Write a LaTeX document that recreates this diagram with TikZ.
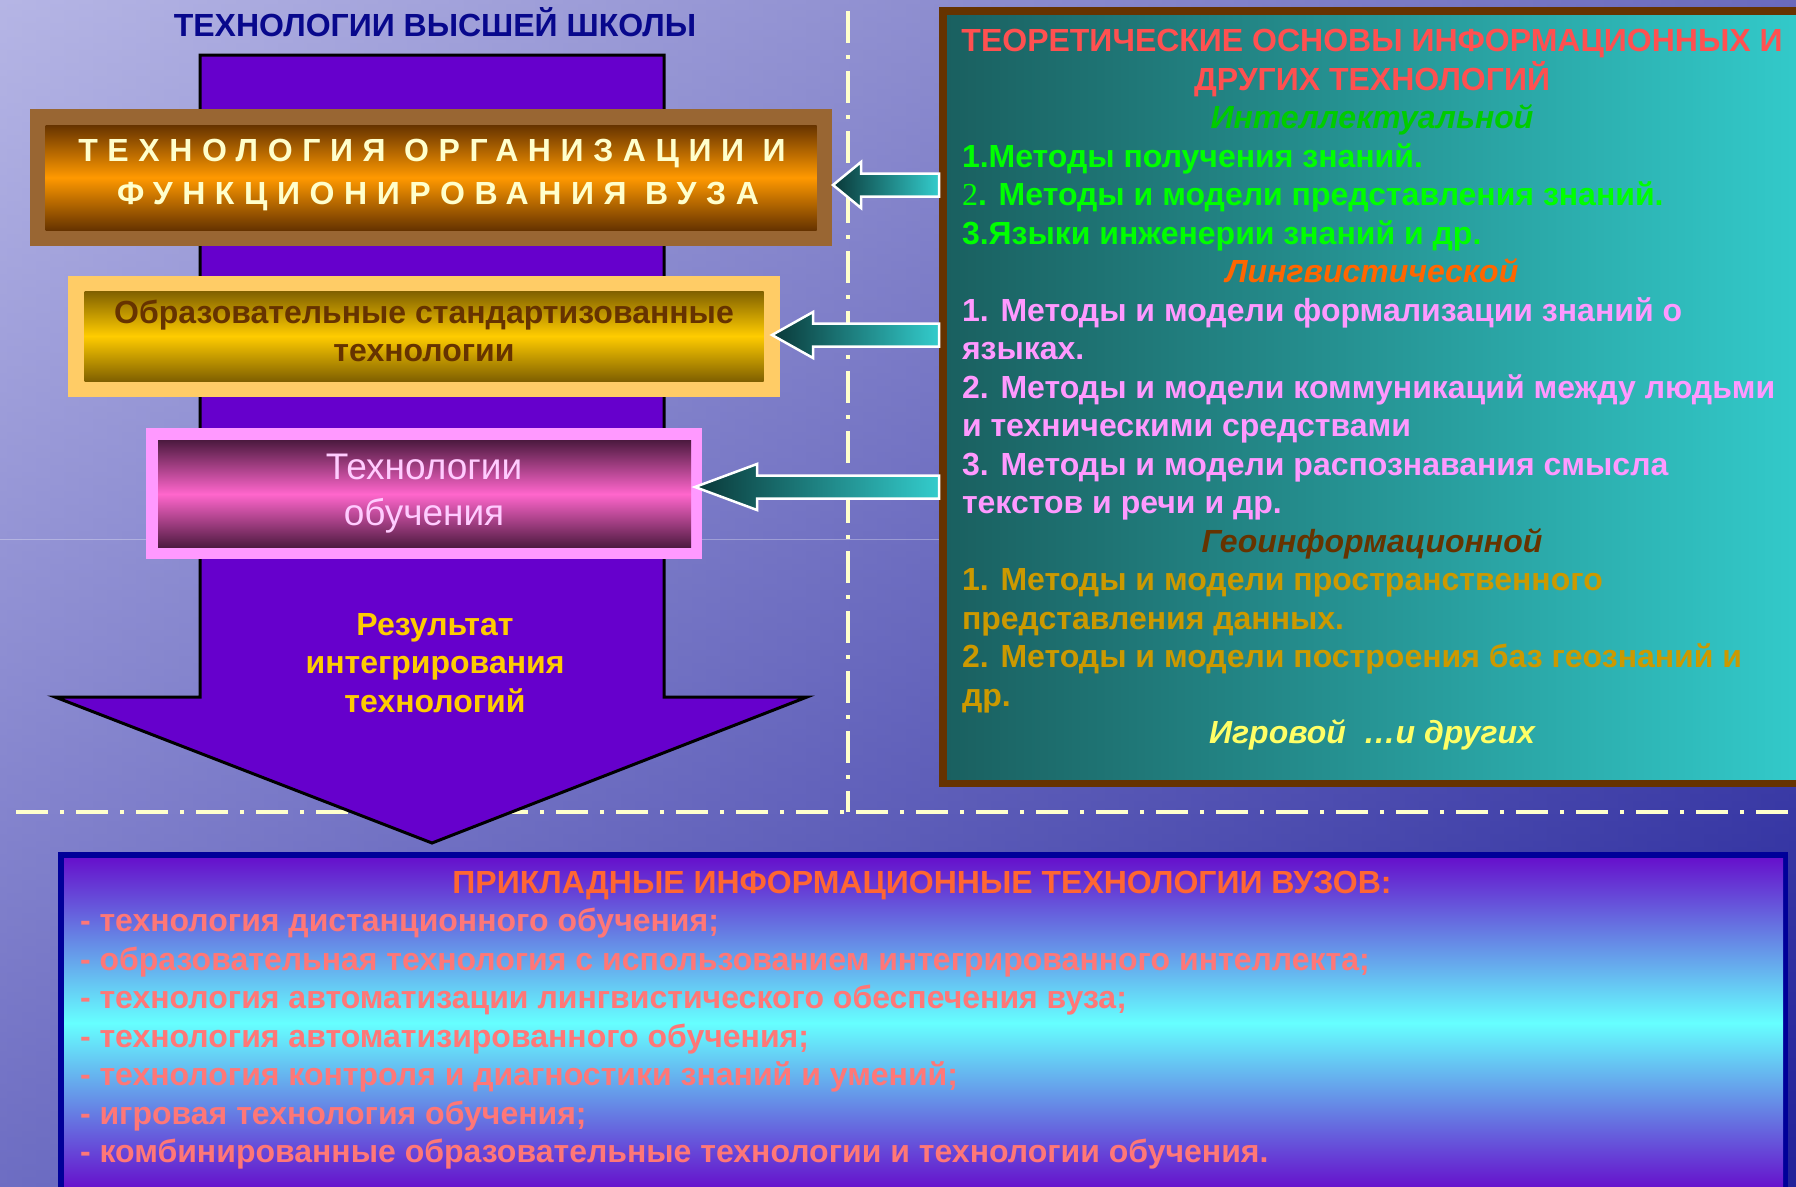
\documentclass[tikz,border=0pt]{standalone}
\usepackage{fontspec}
\setmainfont{Liberation Sans}
\newfontfamily\digitfont{Liberation Serif}
\usetikzlibrary{calc}

\definecolor{skylight}{RGB}{160,160,222}
\definecolor{skydeep}{RGB}{34,34,154}
\definecolor{skyhaze}{RGB}{214,214,240}
\definecolor{titleblue}{RGB}{8,8,140}
\definecolor{shaftpurple}{RGB}{102,0,204}
\definecolor{orgframe}{RGB}{153,102,51}
\definecolor{orgdark}{RGB}{102,51,0}
\definecolor{orglight}{RGB}{255,153,0}
\definecolor{orgtext}{RGB}{255,255,204}
\definecolor{stdframe}{RGB}{255,204,102}
\definecolor{stddark}{RGB}{128,96,0}
\definecolor{stdlight}{RGB}{255,204,0}
\definecolor{stdtext}{RGB}{102,51,0}
\definecolor{eduframe}{RGB}{255,153,255}
\definecolor{edudark}{RGB}{77,26,64}
\definecolor{edulight}{RGB}{255,102,204}
\definecolor{edutext}{RGB}{255,204,255}
\definecolor{resultyellow}{RGB}{255,204,0}
\definecolor{guidecream}{RGB}{255,255,204}
\definecolor{feeddark}{RGB}{10,56,56}
\definecolor{feedlight}{RGB}{51,204,204}
\definecolor{theoframe}{RGB}{102,51,0}
\definecolor{theodark}{RGB}{26,96,96}
\definecolor{theolight}{RGB}{51,204,204}
\definecolor{theored}{RGB}{255,80,80}
\definecolor{intelgreen}{RGB}{0,204,0}
\definecolor{intelitem}{RGB}{0,255,0}
\definecolor{lingorange}{RGB}{255,102,0}
\definecolor{lingitem}{RGB}{255,153,255}
\definecolor{geobrown}{RGB}{102,51,0}
\definecolor{geoitem}{RGB}{204,153,0}
\definecolor{gameyellow}{RGB}{255,255,102}
\definecolor{applframe}{RGB}{0,0,153}
\definecolor{applpurple}{RGB}{102,17,204}
\definecolor{applcyan}{RGB}{102,255,255}
\definecolor{applhead}{RGB}{255,102,51}
\definecolor{applitem}{RGB}{255,119,119}

\begin{document}
\begin{tikzpicture}[x=1pt,y=-1pt,
  every node/.style={inner sep=0pt,outer sep=0pt},
  bigarrow/.style={fill=shaftpurple,draw=black,line width=3pt,line join=miter},
  feed/.style={left color=feeddark,right color=feedlight,draw=white,line width=2.5pt,line join=miter},
  guideline/.style={draw=guidecream,line width=4pt,dash pattern=on 32pt off 12pt on 4pt off 12pt},
  theoline/.style={anchor=base west,font=\fontsize{32}{38}\selectfont\bfseries},
  theohead/.style={anchor=base,font=\fontsize{32}{38}\selectfont\bfseries\itshape},
  applline/.style={anchor=base west,text=applitem,font=\fontsize{32}{38}\selectfont\bfseries}]
\useasboundingbox (0,0) rectangle (1796,1186);
\shade[left color=skylight,right color=skydeep] (0,0) rectangle (1796,1186);
\shade[top color=skyhaze,bottom color=skydeep,opacity=0.4] (0,0) rectangle (1796,1186);
\draw[white,opacity=0.3,line width=1pt] (0,539) -- (939,539);

\draw[guideline] (848,11) -- (848,812);
\draw[guideline] (16,812) -- (1788,812);

\node[anchor=base,text=titleblue,font=\fontsize{32}{38}\selectfont\bfseries] (title) at (435,36) {ТЕХНОЛОГИИ ВЫСШЕЙ ШКОЛЫ};

\draw[bigarrow] (200,55) -- (664,55) -- (664,697) -- (807,697) -- (432,843) -- (55,697) -- (200,697) -- cycle;

\node[fill=orgframe,minimum width=802pt,minimum height=137pt] (orgframe) at (431,177.5) {};
\node[top color=orgdark,bottom color=orgdark,middle color=orglight,minimum width=771pt,minimum height=105pt] (org) at (431,177.5) {};
\node[anchor=base,text=orgtext,font=\fontsize{32}{38}\selectfont\bfseries\addfontfeatures{LetterSpace=30}] (org1) at (432,161) {ТЕХНОЛОГИЯ ОРГАНИЗАЦИИ И};
\node[anchor=base,text=orgtext,font=\fontsize{32}{38}\selectfont\bfseries\addfontfeatures{LetterSpace=30}] (org2) at (438,204) {ФУНКЦИОНИРОВАНИЯ ВУЗА};

\node[fill=stdframe,minimum width=712pt,minimum height=121pt] (stdframe) at (424,336) {};
\node[top color=stddark,bottom color=stddark,middle color=stdlight,minimum width=679pt,minimum height=90pt] (std) at (424,336) {};
\node[anchor=base,text=stdtext,font=\fontsize{32}{38}\selectfont\bfseries] (std1) at (424,323) {Образовательные стандартизованные};
\node[anchor=base,text=stdtext,font=\fontsize{32}{38}\selectfont\bfseries] (std2) at (424,361) {технологии};

\node[fill=eduframe,minimum width=556pt,minimum height=131pt] (eduframe) at (424,493.5) {};
\node[top color=edudark,bottom color=edudark,middle color=edulight,minimum width=533pt,minimum height=107pt] (edu) at (424.5,494) {};
\node[anchor=base,text=edutext,font=\fontsize{37}{46}\selectfont] (edu1) at (424,479) {Технологии};
\node[anchor=base,text=edutext,font=\fontsize{37}{46}\selectfont] (edu2) at (424,525) {обучения};

\node[anchor=base,text=resultyellow,font=\fontsize{32}{38}\selectfont\bfseries] (result1) at (435,635) {Результат};
\node[anchor=base,text=resultyellow,font=\fontsize{32}{38}\selectfont\bfseries] (result2) at (435,673.5) {интегрирования};
\node[anchor=base,text=resultyellow,font=\fontsize{32}{38}\selectfont\bfseries] (result3) at (435,712) {технологий};

\node[fill=theoframe,anchor=north west,minimum width=880pt,minimum height=780pt] (theoframe) at (939,7) {};
\node[left color=theodark,right color=theolight,anchor=north west,minimum width=870pt,minimum height=764pt] (theo) at (947,15) {};
\node[theohead,font=\fontsize{32}{38}\selectfont\bfseries,text=theored] (theo1) at (1372,51.5) {ТЕОРЕТИЧЕСКИЕ ОСНОВЫ ИНФОРМАЦИОННЫХ И};
\node[theohead,font=\fontsize{32}{38}\selectfont\bfseries,text=theored] (theo2) at (1372,90) {ДРУГИХ ТЕХНОЛОГИЙ};
\node[theohead,text=intelgreen] (intel) at (1372,128.5) {Интеллектуальной};
\node[theoline,text=intelitem] (intel1) at (962,167) {1.Методы получения знаний.};
\node[theoline,text=intelitem] (intel2) at (962,205.5) {{\digitfont\mdseries 2}. Методы и модели представления знаний.};
\node[theoline,text=intelitem] (intel3) at (962,244) {3.Языки инженерии знаний и др.};
\node[theohead,text=lingorange] (ling) at (1372,282.5) {Лингвистической};
\node[theoline,text=lingitem] (ling1) at (962,321) {1. Методы и модели формализации знаний о};
\node[theoline,text=lingitem] (ling1b) at (962,359.5) {языках.};
\node[theoline,text=lingitem] (ling2) at (962,398) {2. Методы и модели коммуникаций между людьми};
\node[theoline,text=lingitem] (ling2b) at (962,436.5) {и техническими средствами};
\node[theoline,text=lingitem] (ling3) at (962,475) {3. Методы и модели распознавания смысла};
\node[theoline,text=lingitem] (ling3b) at (962,513.5) {текстов и речи и др.};
\node[theohead,text=geobrown] (geo) at (1372,552) {Геоинформационной};
\node[theoline,text=geoitem] (geo1) at (962,590.5) {1. Методы и модели пространственного};
\node[theoline,text=geoitem] (geo1b) at (962,629) {представления данных.};
\node[theoline,text=geoitem] (geo2) at (962,667.5) {2. Методы и модели построения баз геознаний и};
\node[theoline,text=geoitem] (geo2b) at (962,706) {др.};
\node[theohead,text=gameyellow] (game) at (1372,743.5) {Игровой~~…и других};

\coordinate (feedA) at ($(orgframe.east)+(1,7.5)$);
\coordinate (feedB) at ($(stdframe.east)+(-8,-1)$);
\coordinate (feedC) at ($(eduframe.east)+(-7,-6.5)$);
\path[feed] (feedA) -- ++(28,-23) -- ++(0,11.5) -- ($(theoframe.west |- feedA)+(0,-11.5)$) -- ++(0,23) -- ($(feedA)+(28,11.5)$) -- ++(0,11.5) -- cycle;
\path[feed] (feedB) -- ++(41,-23) -- ++(0,11.5) -- ($(theoframe.west |- feedB)+(0,-11.5)$) -- ++(0,23) -- ($(feedB)+(41,11.5)$) -- ++(0,11.5) -- cycle;
\path[feed] (feedC) -- ++(62,-23) -- ++(0,11.5) -- ($(theoframe.west |- feedC)+(0,-11.5)$) -- ++(0,23) -- ($(feedC)+(62,11.5)$) -- ++(0,11.5) -- cycle;

\node[fill=applframe,anchor=north west,minimum width=1730pt,minimum height=360pt] (applframe) at (58,852) {};
\node[top color=applpurple,bottom color=applpurple,middle color=applcyan,anchor=north west,minimum width=1719pt,minimum height=330pt] (appl) at (64,858) {};
\node[anchor=base,text=applhead,font=\fontsize{32}{38}\selectfont\bfseries] (applhead) at (922,893) {ПРИКЛАДНЫЕ ИНФОРМАЦИОННЫЕ ТЕХНОЛОГИИ ВУЗОВ:};
\node[applline] (appl1) at (80,931.5) {- технология дистанционного обучения;};
\node[applline] (appl2) at (80,970) {- образовательная технология с использованием интегрированного интеллекта;};
\node[applline] (appl3) at (80,1008.5) {- технология автоматизации лингвистического обеспечения вуза;};
\node[applline] (appl4) at (80,1047) {- технология автоматизированного обучения;};
\node[applline] (appl5) at (80,1085.5) {- технология контроля и диагностики знаний и умений;};
\node[applline] (appl6) at (80,1124) {- игровая технология обучения;};
\node[applline] (appl7) at (80,1162.5) {- комбинированные образовательные технологии и технологии обучения.};
\end{tikzpicture}
\end{document}
